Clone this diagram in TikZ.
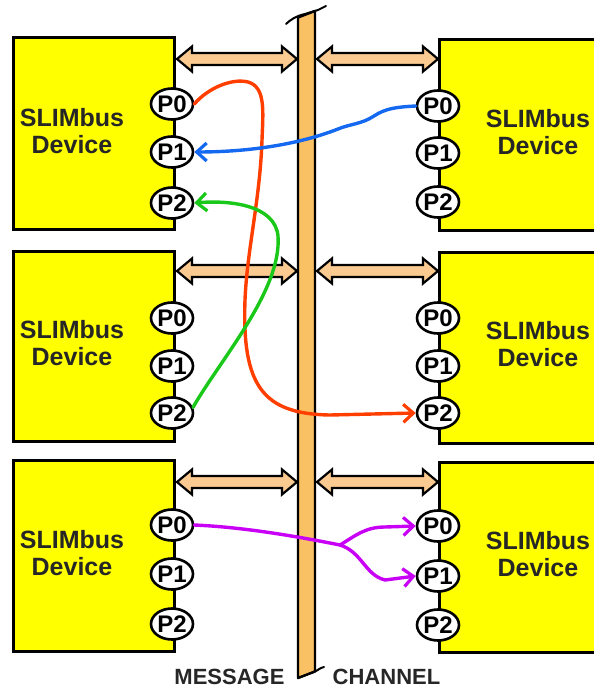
\documentclass[tikz,border=0pt]{standalone}
\usepackage{fontspec}
\setmainfont{Liberation Sans}
\usetikzlibrary{shapes.geometric,arrows.meta}
\definecolor{devyellow}{RGB}{255,255,0}
\definecolor{busfill}{RGB}{250,192,100}
\definecolor{linkfill}{RGB}{250,202,145}
\definecolor{routered}{RGB}{255,62,0}
\definecolor{routeblue}{RGB}{20,105,240}
\definecolor{routegreen}{RGB}{25,200,25}
\definecolor{routepurple}{RGB}{200,0,245}
\tikzset{
  devbox/.style={draw=black, line width=3pt, fill=devyellow, inner sep=0pt},
  devtext/.style={font=\fontsize{25}{27.5}\selectfont\bfseries, align=center, text=black!85},
  port/.style={ellipse, draw=black, line width=2.6pt, fill=white, inner sep=0pt,
    minimum width=42pt, minimum height=31pt, font=\fontsize{24}{24}\selectfont\bfseries},
  linkarrow/.style={draw=black, line width=2.2pt, fill=linkfill, line join=miter},
  busbar/.style={draw=black, line width=2.4pt, fill=busfill, line join=round},
  breakmark/.style={draw=black, line width=2pt, line cap=round},
  route/.style={line width=3.4pt, line cap=round, -{Straight Barb[length=10pt,width=18pt,line width=3.2pt]}},
  lbl/.style={font=\fontsize{22}{22}\selectfont\bfseries, text=black!85}
}
% double-headed link between a device and the bus: left x, right x, y
\newcommand\buslink[3]{%
  \draw[linkarrow] (#1,#3) -- (#1+15,#3-12.5) -- (#1+15,#3-6) -- (#2-15,#3-6)
    -- (#2-15,#3-12.5) -- (#2,#3) -- (#2-15,#3+12.5) -- (#2-15,#3+6)
    -- (#1+15,#3+6) -- (#1+15,#3+12.5) -- cycle;}
\begin{document}
\begin{tikzpicture}[x=1pt,y=-1pt]
\useasboundingbox (0,0) rectangle (594,688);
\clip (0,0) rectangle (594,688);

% message channel bus
\draw[busbar] (298,17.5) -- (315,11) -- (315,671.5) -- (298,678) -- cycle;
\draw[breakmark] (286,24) .. controls (290,20) and (296,16) .. (305,14) -- (318,10) -- (326,6);
\draw[breakmark] (298,678) -- (316,671) -- (321,668) -- (324,667);

% devices on the left
\node[devbox, minimum width=161pt, minimum height=192pt] (L1) at (93.5,133) {};
\node[devbox, minimum width=161pt, minimum height=190pt] (L2) at (93.5,346) {};
\node[devbox, minimum width=161pt, minimum height=191pt] (L3) at (93.5,555.5) {};
% devices on the right
\node[devbox, minimum width=170pt, minimum height=191pt] (R1) at (524,134.5) {};
\node[devbox, minimum width=170pt, minimum height=191pt] (R2) at (524,347.5) {};
\node[devbox, minimum width=170pt, minimum height=190pt] (R3) at (524,557) {};

\node[devtext] (L1t) at (72,131) {SLIMbus\\Device};
\node[devtext] (L2t) at (72,343) {SLIMbus\\Device};
\node[devtext] (L3t) at (72,553) {SLIMbus\\Device};
\node[devtext] (R1t) at (538,132) {SLIMbus\\Device};
\node[devtext] (R2t) at (538,344) {SLIMbus\\Device};
\node[devtext] (R3t) at (538,554) {SLIMbus\\Device};

% ports
\node[port] (L1p0) at (172,104) {P0};
\node[port] (L1p1) at (172,152) {P1};
\node[port] (L1p2) at (172,203) {P2};
\node[port] (L2p0) at (172,318) {P0};
\node[port] (L2p1) at (172,366) {P1};
\node[port] (L2p2) at (172,413) {P2};
\node[port] (L3p0) at (172,525) {P0};
\node[port] (L3p1) at (172,574) {P1};
\node[port] (L3p2) at (172,624) {P2};
\node[port] (R1p0) at (438,106) {P0};
\node[port] (R1p1) at (438,153) {P1};
\node[port] (R1p2) at (438,202) {P2};
\node[port] (R2p0) at (438,318) {P0};
\node[port] (R2p1) at (438,366) {P1};
\node[port] (R2p2) at (438,413) {P2};
\node[port] (R3p0) at (438,526) {P0};
\node[port] (R3p1) at (438,576) {P1};
\node[port] (R3p2) at (438,625) {P2};

% links between devices and the bus
\buslink{177}{297}{59}
\buslink{317}{438}{59}
\buslink{177}{297}{271}
\buslink{317}{438}{271}
\buslink{177}{297}{482}
\buslink{317}{438}{482}

% data channels
\draw[route, routered] (L1p0.east) .. controls (208,88) and (232,78) .. (248,82)
  .. controls (266,87) and (263,112) .. (262,140)
  .. controls (260,200) and (247,250) .. (245,300)
  .. controls (242,385) and (262,414) .. (330,415) -- (R2p2.west);
\draw[route, routeblue] (R1p0.west) .. controls (398,107) and (386,108) .. (374,116)
  .. controls (362,124) and (350,124) .. (338,129)
  .. controls (300,144) and (250,152) .. (L1p1.east);
\draw[route, routegreen] (L2p2.15) .. controls (220,360) and (282,290) .. (278,236)
  .. controls (275,205) and (230,200) .. (L1p2.east);
\coordinate (split) at (340,545);
\draw[line width=3.4pt, line cap=round, routepurple] (L3p0.east) .. controls (240,527) and (290,535) .. (split);
\draw[route, routepurple] (split) .. controls (355,536) and (365,527) .. (385,527) -- (R3p0.west);
\draw[route, routepurple] (split) .. controls (362,552) and (365,575) .. (385,580) -- (R3p1.west);

% bus labels
\node[lbl] (msg) at (229.5,677) {MESSAGE};
\node[lbl] (chn) at (386.5,677) {CHANNEL};
\end{tikzpicture}
\end{document}
